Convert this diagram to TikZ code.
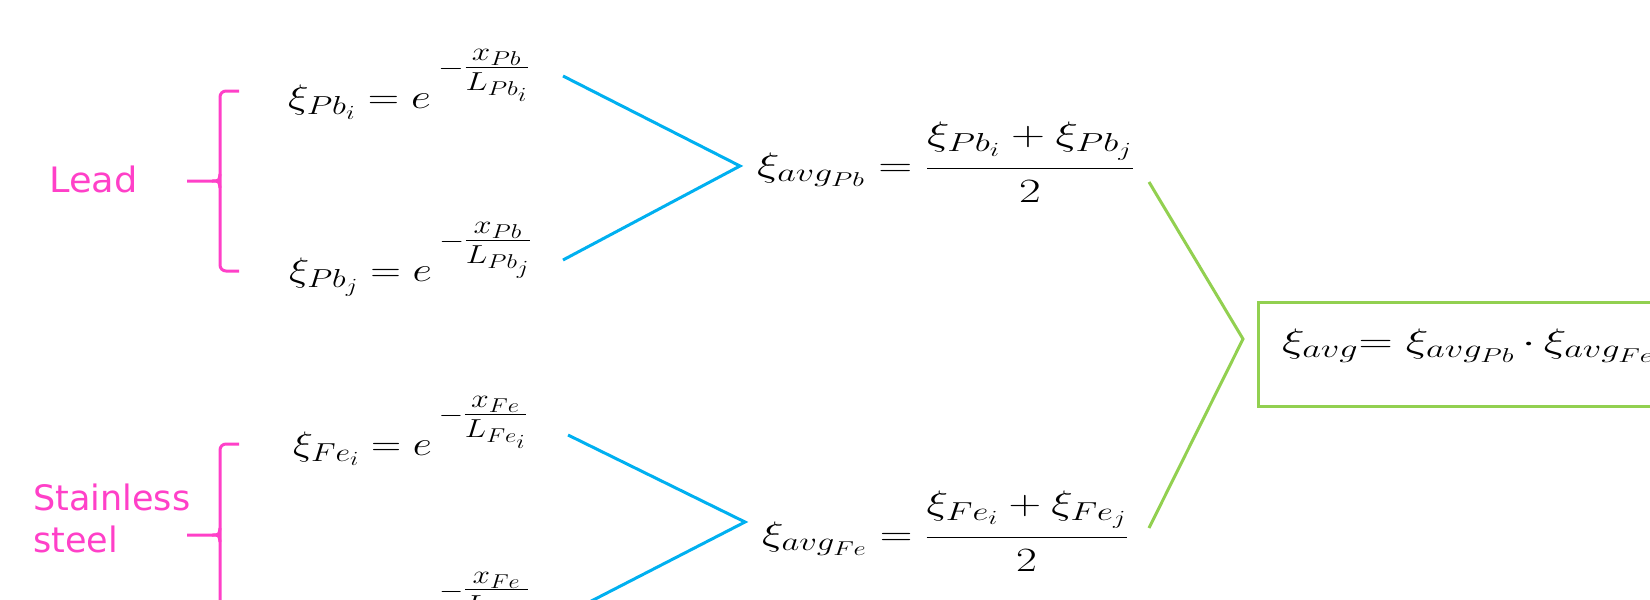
\RequirePackage{fix-cm}
\documentclass[tikz,border=0pt]{standalone}
\usepackage{amsmath}
\usepackage{fontspec}
\usepackage{graphicx}
\DeclareMathSizes{34}{34}{26}{20}
\newfontfamily\labelfont{DejaVu Sans}
\definecolor{pinkc}{HTML}{FF40C8}
\definecolor{bluec}{HTML}{00B0F0}
\definecolor{greenc}{HTML}{92D050}
\newcommand{\expo}[2]{e\,\raisebox{33pt}{$\scriptstyle-\tfrac{#1}{\rule{0pt}{22pt}#2}$}}
\newcommand{\eqbox}[2]{\resizebox{#1}{\height}{$#2$}}
\newcommand{\avgfrac}[2]{\dfrac{#1+#2\rule[-19pt]{0pt}{0pt}}{\rule{0pt}{31pt}2}}
\begin{document}
\begin{tikzpicture}[x=1pt,y=-1pt,
  eq/.style={inner sep=0pt, anchor=base west, font=\fontsize{34}{40}\selectfont},
  lab/.style={inner sep=0pt, anchor=base west, text=pinkc, font=\labelfont\fontsize{35}{42}\selectfont},
  brace/.style={draw=pinkc, line width=3pt, rounded corners=6pt},
  bline/.style={draw=bluec, line width=3pt},
  gline/.style={draw=greenc, line width=3pt}]
\useasboundingbox (0,0) rectangle (1650,600);
\clip (0,0) rectangle (1650,600);

% labels
\node[lab] (lead) at (49,192) {\scalebox{1.05}[1]{Lead}};
\node[lab] (steel) at (33,510) {\begin{tabular}[t]{@{}l@{}}Stainless\\steel\end{tabular}};

% braces
\draw[brace] (239,91) -- (220,91) -- (220,271) -- (239,271);
\draw[pinkc, line width=3pt] (187,181) -- (212,181) .. controls (219,181) .. (220,174);
\draw[pinkc, line width=3pt] (212,181) .. controls (219,181) .. (220,188);
\draw[brace] (239,444) -- (220,444) -- (220,640);
\draw[pinkc, line width=3pt] (187,535) -- (212,535) .. controls (219,535) .. (220,528);
\draw[pinkc, line width=3pt] (212,535) .. controls (219,535) .. (220,542);

% source equations
\node[eq] (pbi) at (288,108.5) {\eqbox{241pt}{\xi_{Pb_i} = \expo{x_{Pb}}{L_{Pb_i}}}};
\node[eq] (pbj) at (289,281.5) {\eqbox{242pt}{\xi_{Pb_j} = \expo{x_{Pb}}{L_{Pb_j}}}};
\node[eq] (fei) at (293,455.5) {\eqbox{234pt}{\xi_{Fe_i} = \expo{x_{Fe}}{L_{Fe_i}}}};
\node[eq] (fej) at (293,631) {\eqbox{236pt}{\xi_{Fe_j} = \expo{x_{Fe}}{L_{Fe_j}}}};

% averages
\node[eq] (avgpb) at (757,176.5) {\eqbox{377pt}{\xi_{avg_{Pb}} = \avgfrac{\xi_{Pb_i}}{\xi_{Pb_j}}}};
\node[eq] (avgfe) at (762,545.5) {\eqbox{366pt}{\xi_{avg_{Fe}} = \avgfrac{\xi_{Fe_i}}{\xi_{Fe_j}}}};

% result
\node[draw=greenc, line width=3pt, outer sep=0pt, inner xsep=24pt, inner ysep=0pt,
      minimum height=104pt, text height=20pt, text depth=23pt, anchor=west,
      font=\fontsize{34}{40}\selectfont] (final) at (1258,354)
      {\eqbox{372pt}{\xi_{avg}{=}\;\xi_{avg_{Pb}}\,{\cdot}\,\xi_{avg_{Fe}}}};

% connectors
\coordinate (pbiR) at (563,76);
\coordinate (pbjR) at (563,260);
\coordinate (apb) at (740,166);
\coordinate (feiR) at (568,435);
\coordinate (fejR) at (568,613);
\coordinate (afe) at (745,522);
\coordinate (gpb) at (1149,182);
\coordinate (gfe) at (1149,528);
\coordinate (gap) at (1243,339);
\draw[bline] (pbiR) -- (apb) -- (pbjR);
\draw[bline] (feiR) -- (afe) -- (fejR);
\draw[gline] (gpb) -- (gap) -- (gfe);
\end{tikzpicture}
\end{document}
